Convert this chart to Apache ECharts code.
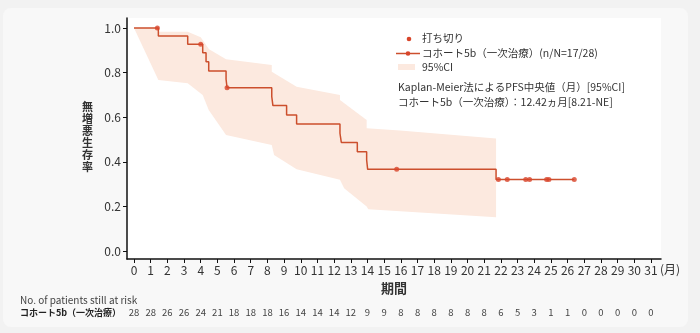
<!DOCTYPE html>
<html><head><meta charset="utf-8">
<script src="https://cdn.jsdelivr.net/npm/echarts@6/dist/echarts.min.js"></script>
<style>html,body{margin:0;padding:0;background:#f2f2f2;} #c{width:700px;height:333px;}</style>
</head><body><div id="c"></div>
<script>
// ---- data ----
const monthTicks = [0,1,2,3,4,5,6,7,8,9,10,11,12,13,14,15,16,17,18,19,20,21,22,23,24,25,26,27,28,29,30,31];
const riskCounts = [28,28,26,26,24,21,18,18,18,16,14,14,14,12,9,9,8,8,8,8,8,8,6,5,3,1,1,0,0,0,0,0];
const yTicks = [0,0.2,0.4,0.6,0.8,1.0];
// Kaplan-Meier step points [month, survival]
const kmCurve = [[0,1.0],[1.46,0.964],[3.22,0.927],[4.12,0.889],[4.32,0.849],[4.48,0.807],[5.52,0.770],[5.58,0.732],[8.26,0.692],[8.33,0.652],[9.15,0.610],[9.75,0.570],[12.35,0.528],[12.43,0.487],[13.39,0.445],[13.95,0.408],[14.01,0.366],[21.71,0.321],[26.40,0.321]];
// censored observations
const censored = [[1.40,1.0],[4.0,0.927],[5.58,0.732],[15.75,0.366],[21.85,0.321],[22.38,0.321],[23.49,0.321],[23.72,0.321],[24.74,0.321],[24.88,0.321],[26.40,0.321]];
// 95% CI bounds
const ciUpper = [[0,1.0],[1.46,1.0],[1.46,0.983],[3.22,0.983],[4.0,0.958],[4.5,0.905],[5.52,0.86],[8.26,0.834],[8.26,0.804],[9.75,0.737],[12.35,0.70],[12.35,0.677],[13.95,0.587],[13.95,0.55],[15.95,0.54],[21.71,0.505]];
const ciLower = [[0,1.0],[1.46,0.767],[3.22,0.752],[4.12,0.70],[4.48,0.632],[5.52,0.52],[8.26,0.475],[8.4,0.43],[9.75,0.366],[12.35,0.32],[12.6,0.281],[13.95,0.199],[14.05,0.187],[21.71,0.151]];

const FONT = "'Noto Sans CJK JP','Noto Sans',sans-serif";
const LINE = '#cc4f2d', DOT = '#d8452a', BAND = '#fce9df', TXT = '#333';

const chart = echarts.init(document.getElementById('c'), null, {renderer:'canvas'});
const option = {
  backgroundColor: '#f2f2f2',
  textStyle: {fontFamily: FONT},
  animation: false,
  grid: {left:127, right:39, top:18, bottom:74, show:true, backgroundColor:'#ffffff', borderWidth:0},
  xAxis: [{
    type:'value', min:-0.42, max:31.6,
    axisLine:{onZero:false, lineStyle:{color:'#111', width:1.5}},
    axisTick:{customValues: monthTicks, length:4, lineStyle:{color:'#111', width:1}},
    axisLabel:{customValues: monthTicks, margin:5, fontSize:12, color:TXT, fontFamily:FONT, formatter: v => String(v)},
    splitLine:{show:false},
    name:'期間', nameLocation:'middle', nameGap:23,
    nameTextStyle:{fontSize:13, fontWeight:'bold', color:TXT, fontFamily:FONT}
  },{
    type:'value', min:-0.42, max:31.6, position:'bottom', offset:45,
    axisLine:{show:false}, axisTick:{show:false}, splitLine:{show:false},
    axisLabel:{customValues: monthTicks, margin:4, fontSize:9.5, color:'#444', fontFamily:FONT,
      formatter: v => String(riskCounts[monthTicks.indexOf(Math.round(v))])}
  }],
  yAxis: {
    type:'value', min:-0.0359, max:1.0448,
    axisLine:{show:true, onZero:false, lineStyle:{color:'#111', width:1.5}},
    axisTick:{show:true, customValues: yTicks, length:4, lineStyle:{color:'#111'}},
    axisLabel:{customValues: yTicks, margin:6, fontSize:12, color:TXT, fontFamily:FONT, formatter: v => v.toFixed(1)},
    splitLine:{show:false}
  },
  series: [
    {type:'custom', name:'95%CI', silent:true, z:1, data:[[0,0]],
     renderItem: (params, api) => {
       const pts = ciUpper.map(p => api.coord(p)).concat(ciLower.slice().reverse().map(p => api.coord(p)));
       return {type:'polygon', shape:{points:pts}, style:{fill:BAND}};
     }},
    {type:'line', name:'コホート5b', step:'end', data:kmCurve, showSymbol:false, symbol:'none', z:3,
     lineStyle:{color:LINE, width:1.5}},
    {type:'scatter', name:'打ち切り', data:censored, symbolSize:5, z:4, itemStyle:{color:DOT}}
  ],
  graphic: [
    {type:'rect', z:-10, shape:{x:3, y:8, width:685, height:319, r:8}, style:{fill:'#f8f8f8'}},
    // y axis name
    {type:'text', left:82, top:101, style:{text:'無\n増\n悪\n生\n存\n率', font:'bold 11px '+FONT, fill:TXT, lineHeight:12}},
    // month unit
    {type:'text', x:660, y:263, style:{text:'(月)', font:'12px '+FONT, fill:TXT}},
    // risk table titles
    {type:'text', x:20, y:295, style:{text:'No. of patients still at risk', font:'10px '+FONT, fill:'#444'}},
    {type:'text', x:20, y:308, style:{text:'コホート5b（一次治療）', font:'bold 9px '+FONT, fill:'#222'}},
    // legend
    {type:'circle', shape:{cx:409, cy:39, r:2.3}, style:{fill:DOT}},
    {type:'text', x:422, y:33, style:{text:'打ち切り', font:'10.5px '+FONT, fill:TXT}},
    {type:'line', shape:{x1:396, y1:53.5, x2:420, y2:53.5}, style:{stroke:LINE, lineWidth:1.5}},
    {type:'circle', shape:{cx:408, cy:53.5, r:2.3}, style:{fill:DOT}},
    {type:'text', x:422, y:47.5, style:{text:'コホート5b（一次治療）(n/N=17/28)', font:'10.5px '+FONT, fill:TXT}},
    {type:'rect', shape:{x:398, y:64, width:17, height:6}, style:{fill:BAND}},
    {type:'text', x:422, y:62, style:{text:'95%CI', font:'10.5px '+FONT, fill:TXT}},
    {type:'text', x:398, y:81.5, style:{text:'Kaplan-Meier法によるPFS中央値（月）[95%CI]', font:'10.5px '+FONT, fill:TXT}},
    {type:'text', x:398, y:96.5, style:{text:'コホート5b（一次治療）：12.42ヵ月[8.21-NE]', font:'10.5px '+FONT, fill:TXT}}
  ]
};
chart.setOption(option);
</script></body></html>
